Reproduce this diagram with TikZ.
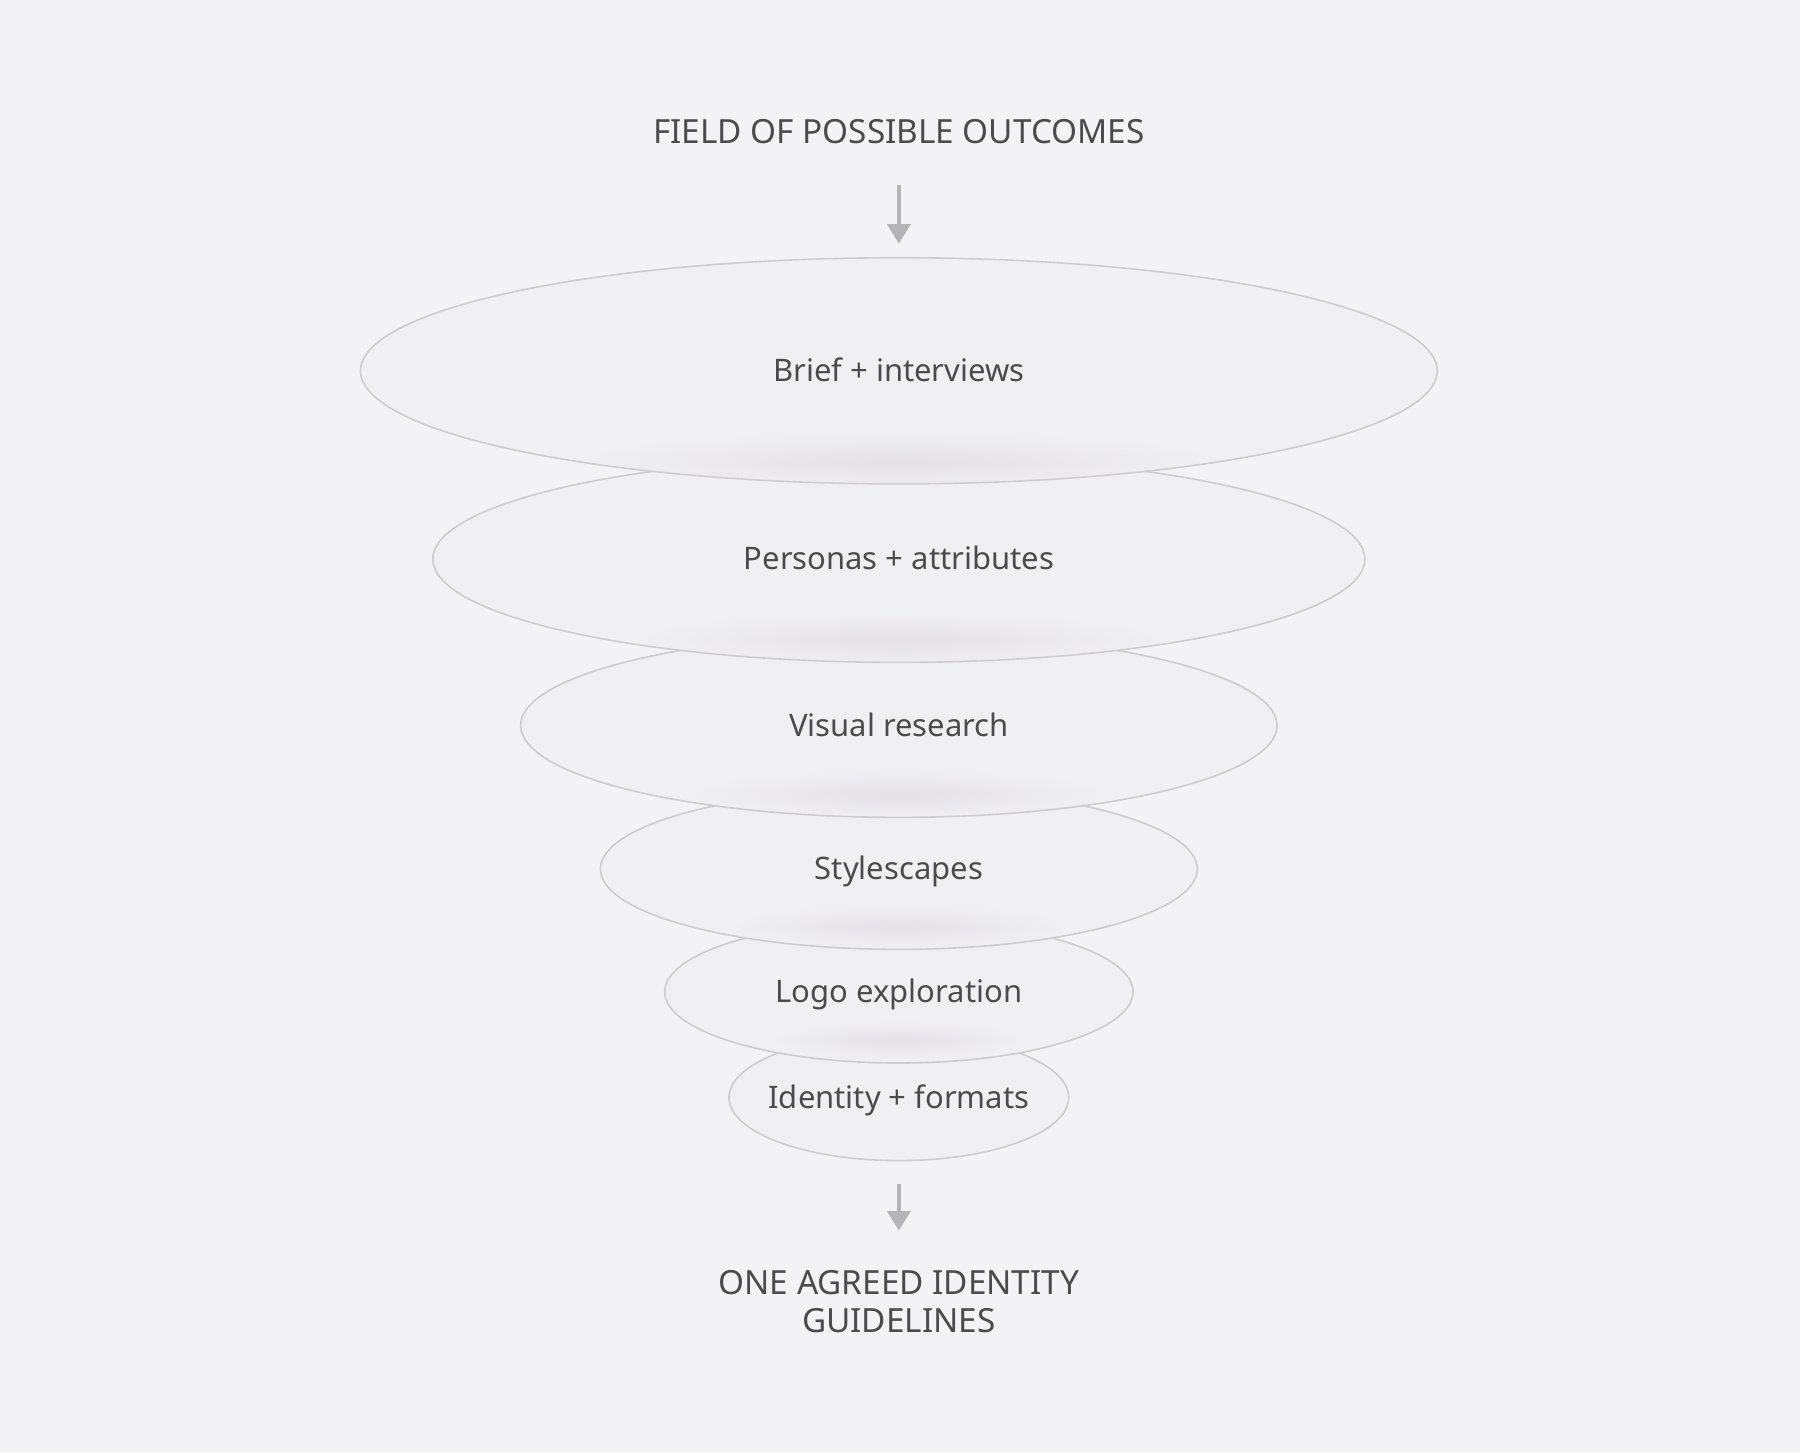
\documentclass[tikz,border=0pt]{standalone}
\usepackage{fontspec}
\setmainfont{Noto Sans}
\usepackage{tikz}
\usetikzlibrary{
  arrows.meta,
  fadings,
  shapes.geometric,
}
\definecolor{canvas}{HTML}{F3F2F5}
\definecolor{discfill}{HTML}{F0EFF2}
\definecolor{discline}{HTML}{CECCD0}
\definecolor{labeltext}{HTML}{4B4A4F}
\definecolor{arrowgray}{HTML}{B5B4B8}
\definecolor{shadowgray}{HTML}{E4E2E7}
\tikzstyle{disc} = [
  ellipse,
  draw=discline,
  fill=discfill,
  line width=0.7pt,
  inner xsep=-20pt,
  inner ysep=0pt,
  text=labeltext,
  text height=2.15ex,
  text depth=0.4ex,
  font=\fontsize{13.5}{16}\selectfont,
]
\tikzstyle{caption} = [
  inner sep=0pt,
  align=center,
  text=labeltext,
  font=\fontsize{14.5}{16.5}\selectfont,
]
\tikzstyle{arrow} = [
  -{Triangle[width=10pt,length=8.5pt]},
  line width=1.7pt,
  arrowgray,
]
\tikzstyle{shadow} = [
  shadowgray,
  path fading=discfade,
]
\tikzfading[name=discfade, inner color=transparent!0, outer color=transparent!100]

\begin{document}
\begin{tikzpicture}[x=0.5pt, y=-0.5pt]

        \fill [canvas] (0,0) rectangle (1568,1265);
        \useasboundingbox (0,0) rectangle (1568,1265);

        \node [caption] (outcomes) at (783,115) {FIELD OF POSSIBLE OUTCOMES};

        % funnel, drawn from the narrow end up
        \node [disc, minimum width=148pt, minimum height=55pt] (identity) at (783,956) {Identity + formats};
        \node [disc, minimum width=204pt, minimum height=62pt] (logo) at (783,864) {Logo exploration};
        \node [disc, minimum width=260pt, minimum height=70pt] (stylescapes) at (783,757) {Stylescapes};
        \node [disc, minimum width=329.5pt, minimum height=80pt] (visual) at (783,632) {Visual research};
        \node [disc, minimum width=406pt, minimum height=90pt] (personas) at (783,487) {Personas + attributes};
        \node [disc, minimum width=469pt, minimum height=98.5pt] (brief) at (783,323) {Brief + interviews};

        % soft shade where each disc meets the one below
        \begin{scope}
          \clip (783,323) ellipse [x radius=469, y radius=98.5];
          \fill [shadow] (783,402) ellipse [x radius=270, y radius=24];
        \end{scope}
        \begin{scope}
          \clip (783,487) ellipse [x radius=406, y radius=90];
          \fill [shadow] (783,557) ellipse [x radius=220, y radius=22];
        \end{scope}
        \begin{scope}
          \clip (783,632) ellipse [x radius=329.5, y radius=80];
          \fill [shadow] (783,692) ellipse [x radius=175, y radius=20];
        \end{scope}
        \begin{scope}
          \clip (783,757) ellipse [x radius=260, y radius=70];
          \fill [shadow] (783,807) ellipse [x radius=140, y radius=18];
        \end{scope}
        \begin{scope}
          \clip (783,864) ellipse [x radius=204, y radius=62];
          \fill [shadow] (783,906) ellipse [x radius=105, y radius=16];
        \end{scope}

        \node [caption] (guidelines) at (783,1133.5) {ONE AGREED IDENTITY\\GUIDELINES};

        \draw [arrow, shorten <=17.75pt, shorten >=5.75pt] (outcomes.south) -- (brief.north);
        \draw [arrow, shorten <=10pt, shorten >=17pt] (identity.south) -- (guidelines.north);

      \end{tikzpicture}
\end{document}
